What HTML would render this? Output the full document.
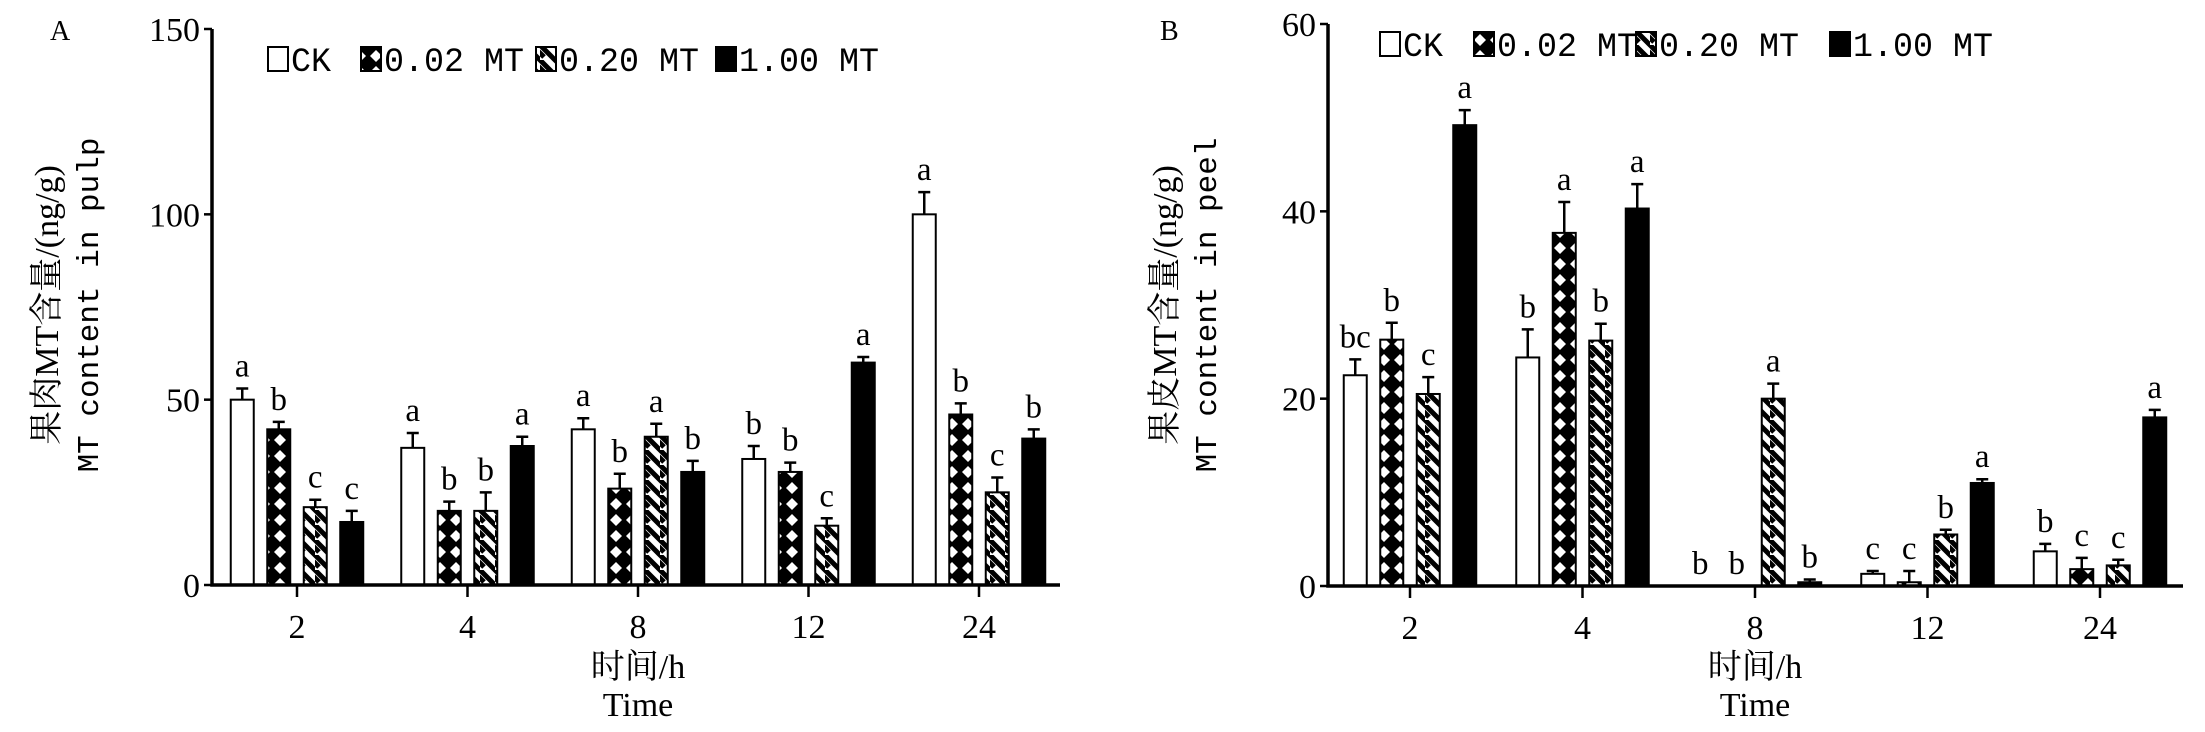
<!DOCTYPE html>
<html><head><meta charset="utf-8">
<style>
html,body{margin:0;padding:0;background:#fff;}
svg{display:block;}
text{fill:#000;}
</style></head>
<body>
<svg id="chart" width="2205" height="732" viewBox="0 0 2205 732" xmlns="http://www.w3.org/2000/svg">
<defs>
<pattern id="pDiamond" patternUnits="userSpaceOnUse" width="16" height="16">
<rect width="16" height="16" fill="#000"/>
<polygon points="8,2 14,8 8,14 2,8" fill="#fff"/>
</pattern>
<pattern id="pStripe" patternUnits="userSpaceOnUse" width="15" height="15">
<rect width="15" height="15" fill="#fff"/>
<path d="M-4,4 L4,12 M0,0 L15,15 M11,-4 L19,4" stroke="#000" stroke-width="5"/>
</pattern>
</defs>
<g id="layer"></g>
</svg>
<script>
const categories = ["2","4","8","12","24"];
const seriesNames = ["CK","0.02 MT","0.20 MT","1.00 MT"];
const pulpCK = [50,37,42,34,100];
const pulp002 = [42,20,26,30.5,46];
const pulp020 = [21,20,40,16,25];
const pulp100 = [17,37.5,30.5,60,39.5];
const pulpErrCK = [3,4,3,3.5,6];
const pulpErr002 = [2,2.5,4,2.5,3];
const pulpErr020 = [2,5,3.5,2,4];
const pulpErr100 = [3,2.5,3,1.5,2.5];
const pulpLetters = [["a","a","a","b","a"],["b","b","b","b","b"],["c","b","a","c","c"],["c","a","b","a","b"]];
const peelCK = [22.5,24.4,0,1.3,3.7];
const peel002 = [26.3,37.7,0,0.4,1.8];
const peel020 = [20.5,26.2,20,5.5,2.2];
const peel100 = [49.2,40.3,0.4,11,18];
const peelErrCK = [1.7,3,0,0.3,0.8];
const peelErr002 = [1.8,3.3,0,1.2,1.2];
const peelErr020 = [1.8,1.8,1.6,0.5,0.6];
const peelErr100 = [1.6,2.6,0.3,0.4,0.8];
const peelLetters = [["bc","b","b","c","b"],["b","a","b","c","c"],["c","b","a","b","c"],["a","a","b","a","a"]];
const pulpTicks = [0,50,100,150];
const peelTicks = [0,20,40,60];

const NS="http://www.w3.org/2000/svg";
const layer=document.getElementById('layer');
function mk(tag,attrs,parent){const e=document.createElementNS(NS,tag);for(const k in attrs)e.setAttribute(k,attrs[k]);(parent||layer).appendChild(e);return e;}
const fills=["#fff","url(#pDiamond)","url(#pStripe)","#000"];
const SERIF='"Liberation Serif","Noto Serif CJK SC",serif';
const MONO='"Liberation Mono","Noto Sans CJK SC",monospace';

function panel(cfg){
  const g=mk('g',{});
  
  
  const y=v=>cfg.y0-(v/cfg.max)*(cfg.y0-cfg.yTop);
  const x=i=>cfg.x0+i*cfg.step;
  cfg.series.forEach((vals,s)=>{
    vals.forEach((v,i)=>{
      const cx=x(i)+(s-1.5)*36.5;
      const top=y(v);
      if(v>0){
        const r=mk('rect',{x:cx-11.5,y:top,width:23,height:cfg.y0-top,fill:fills[s],stroke:'#000','stroke-width':2},g);
        
        
      }
      const e=cfg.errs[s][i];
      const et=y(v+e);
      if(e>0){
        const eb=mk('path',{d:`M${cx},${top} V${et} M${cx-6},${et} H${cx+6}`,stroke:'#000','stroke-width':2.5,fill:'none'},g);
        
        
      }
      const t=mk('text',{x:cx,y:et-12,'text-anchor':'middle','font-family':SERIF,'font-size':33},g);
      t.textContent=cfg.letters[s][i];
      
      
    });
  });
  const ax=mk('path',{d:`M${cfg.axX},${cfg.yTop} V${cfg.y0} H${cfg.axEnd}`,stroke:'#000','stroke-width':3.5,fill:'none'},g);
  
  
  cfg.ticks.forEach(tv=>{
    const ty=y(tv);
    mk('path',{d:`M${cfg.axX-8},${ty} H${cfg.axX}`,stroke:'#000','stroke-width':2.5},g);
    const t=mk('text',{x:cfg.axX-12,y:ty+12,'text-anchor':'end','font-family':SERIF,'font-size':34},g);
    t.textContent=tv;
    
    
  });
  categories.forEach((c,i)=>{
    mk('path',{d:`M${x(i)},${cfg.y0} V${cfg.y0+12}`,stroke:'#000','stroke-width':2.5},g);
    const t=mk('text',{x:x(i),y:cfg.y0+53,'text-anchor':'middle','font-family':SERIF,'font-size':34},g);
    t.textContent=c;
    
    
  });
  const xt=mk('text',{x:x(2),y:678,'text-anchor':'middle','font-family':SERIF,'font-size':34},g);
  xt.textContent='时间/h';
  
  
  const xt2=mk('text',{x:x(2),y:716,'text-anchor':'middle','font-family':SERIF,'font-size':34},g);
  xt2.textContent='Time';
  
  
  const yt=mk('text',{transform:`translate(${cfg.ytX},${cfg.ytY}) rotate(-90)`,'text-anchor':'middle','font-family':SERIF,'font-size':34},g);
  yt.textContent=cfg.ytitle1;
  
  
  const yt2=mk('text',{transform:`translate(${cfg.ytX+40},${cfg.ytY}) rotate(-90)`,'text-anchor':'middle','font-family':MONO,'font-size':31},g);
  yt2.textContent=cfg.ytitle2;
  
  
  const pl=mk('text',{x:cfg.plX,y:40,'font-family':SERIF,'font-size':28},g);
  pl.textContent=cfg.label;
  
  
  const lg=mk('g',{},g);
  
  
  cfg.legX.forEach((lx,s)=>{
    const it=mk('g',{},lg);
    
    
    mk('rect',{x:lx,y:cfg.legY-12,width:20,height:24,fill:fills[s],stroke:'#000','stroke-width':2},it);
    const t=mk('text',{x:lx+23,y:cfg.legY+12,'font-family':MONO,'font-size':34,textLength:seriesNames[s].length*20,lengthAdjust:'spacingAndGlyphs'},it);
    t.textContent=seriesNames[s];
  });
}

panel({name:'pulp-chart',label:'A',plX:50,x0:297,step:170.5,axX:212,axEnd:1060,y0:585,yTop:29,max:150,
  ticks:pulpTicks,series:[pulpCK,pulp002,pulp020,pulp100],errs:[pulpErrCK,pulpErr002,pulpErr020,pulpErr100],letters:pulpLetters,
  ytX:58,ytY:305,ytitle1:'果肉MT含量/(ng/g)',ytitle2:'MT content in pulp',legX:[268,361,536,716],legY:59});
panel({name:'peel-chart',label:'B',plX:1160,x0:1410,step:172.5,axX:1328,axEnd:2183,y0:586,yTop:24,max:60,
  ticks:peelTicks,series:[peelCK,peel002,peel020,peel100],errs:[peelErrCK,peelErr002,peelErr020,peelErr100],letters:peelLetters,
  ytX:1176,ytY:305,ytitle1:'果皮MT含量/(ng/g)',ytitle2:'MT content in peel',legX:[1380,1474,1636,1830],legY:44});
</script>
</body></html>
